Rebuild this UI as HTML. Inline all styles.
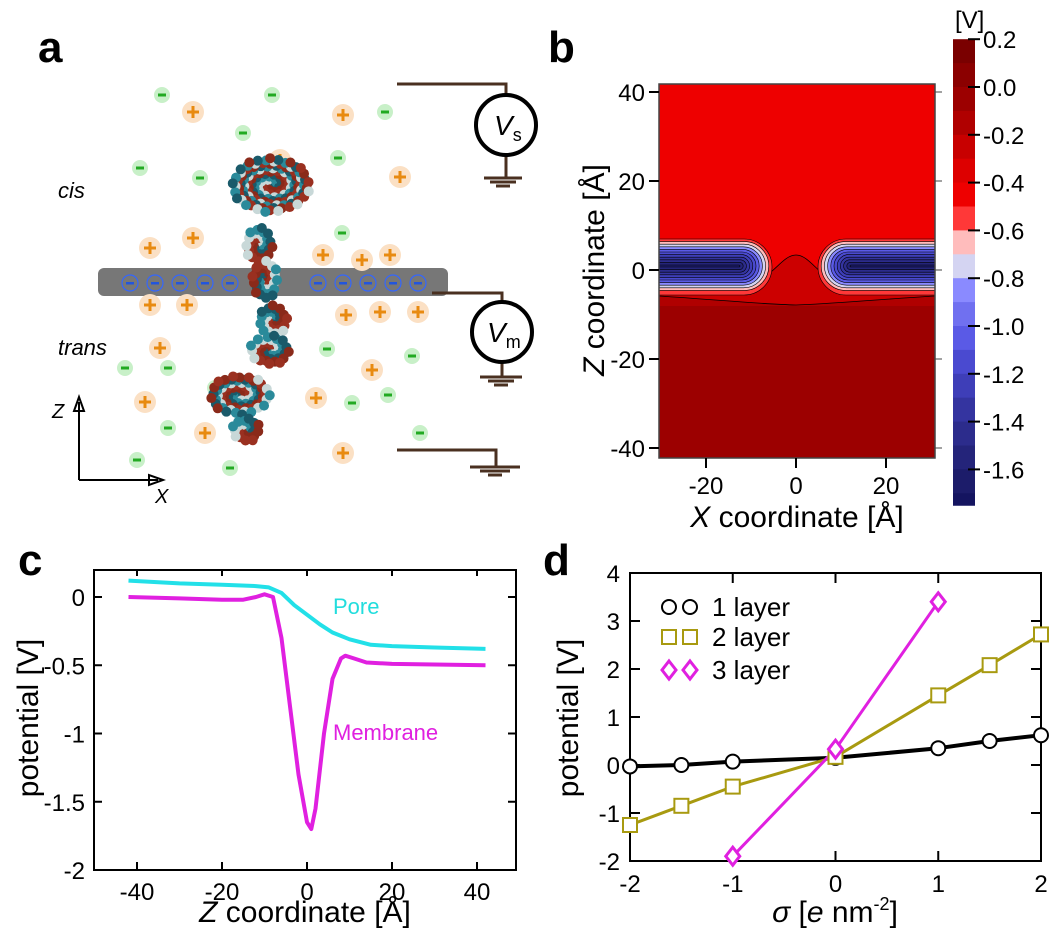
<!DOCTYPE html>
<html><head><meta charset="utf-8"><style>
body{margin:0;background:#fff}
svg{display:block;font-family:"Liberation Sans",sans-serif}
</style></head><body>
<svg id="fig" width="1050" height="940" viewBox="0 0 1050 940">
<defs>
<clipPath id="bclip"><rect x="659" y="84" width="276" height="374"/></clipPath>
<clipPath id="cclip"><rect x="94" y="570" width="422" height="300"/></clipPath>
</defs>
<text x="38" y="62" font-size="44" font-weight="bold">a</text>
<text x="548" y="62" font-size="44" font-weight="bold">b</text>
<text x="18" y="575" font-size="44" font-weight="bold">c</text>
<text x="543" y="575" font-size="44" font-weight="bold">d</text>

<g id="pa">
<rect x="98" y="268" width="350" height="28" rx="6" fill="#777"/>
<g id="ions"></g>
<g id="protein"></g>
<text x="58" y="198" font-size="22" font-style="italic">cis</text>
<text x="58" y="355" font-size="22" font-style="italic">trans</text>
<g stroke="#4a3020" stroke-width="3" fill="none">
<path d="M397 84 H506 V95"/><path d="M506 156 V178 M484 178 H522 M490 182 H516 M496 186 H510"/>
<path d="M432 293 H502 V302"/><path d="M502 363 V377 M480 377 H522 M488 381 H514 M494 385 H508"/>
<path d="M397 450 H496 V467 M470 467 H520 M480 471 H510 M488 475 H502"/>
</g>
<circle cx="506" cy="125" r="30" fill="#fff" stroke="#000" stroke-width="4"/>
<text x="494" y="135" font-size="28" font-style="italic">V<tspan font-size="18" font-style="normal" dy="6">s</tspan></text>
<circle cx="502" cy="332" r="30" fill="#fff" stroke="#000" stroke-width="4"/>
<text x="487" y="342" font-size="28" font-style="italic">V<tspan font-size="18" font-style="normal" dy="6">m</tspan></text>
<g stroke="#000" stroke-width="2" fill="none">
<path d="M79 480 V402 M79 397 l-5 14 h10 z M79 480 H158 M163 480 l-14 -5 v10 z"/>
</g>
<text x="52" y="418" font-size="20" font-style="italic">Z</text>
<text x="155" y="503" font-size="20" font-style="italic">X</text>
</g>

<g id="pb">
<g clip-path="url(#bclip)">
<rect x="659" y="84" width="276" height="374" fill="#ee0000"/>
<rect x="659" y="305" width="276" height="153" fill="#9c0000"/>
<path d="M659 296 C720 300 760 304 796 305 C830 304 870 300 935 296 V306 H659Z" fill="#b00000"/>
<path d="M659 285 H740 C770 285 780 255 796 255 C812 255 822 285 850 285 H935 V296 C870 300 830 304 796 305 C760 304 720 300 659 296Z" fill="#cc0000" stroke="#000" stroke-width="0.8"/>
<g id="blobs"></g>
</g>
<rect x="659" y="84" width="276" height="374" fill="none" stroke="#444" stroke-width="1.5"/>
<g id="bticks"></g>
<text x="0" y="0" font-size="30" transform="translate(604,270) rotate(-90)" text-anchor="middle"><tspan font-style="italic">Z</tspan> coordinate [Å]</text>
<text x="797" y="527" font-size="30" text-anchor="middle"><tspan font-style="italic">X</tspan> coordinate [Å]</text>
<g id="cbar"></g>
<text x="955" y="28" font-size="24">[V]</text>
</g>

<g id="pc">
<rect x="94" y="570" width="422" height="300" fill="none" stroke="#000" stroke-width="2"/>
<g id="cticks"></g>
<g clip-path="url(#cclip)" id="clines"></g>
<text x="333" y="614" font-size="22" fill="#22dddd">Pore</text>
<text x="333" y="740" font-size="22" fill="#e020e0">Membrane</text>
<text font-size="30" transform="translate(38,718) rotate(-90)" text-anchor="middle">potential [V]</text>
<text x="305" y="922" font-size="30" text-anchor="middle"><tspan font-style="italic">Z</tspan> coordinate [Å]</text>
</g>

<g id="pd">
<rect x="630" y="573" width="411" height="288" fill="none" stroke="#000" stroke-width="2"/>
<g id="dticks"></g>
<g id="dlines"></g>
<g id="dlegend"></g>
<text font-size="30" transform="translate(578,718) rotate(-90)" text-anchor="middle">potential [V]</text>
<text x="835" y="922" font-size="30" text-anchor="middle"><tspan font-style="italic">σ</tspan> [<tspan font-style="italic">e</tspan> nm<tspan font-size="18" dy="-12">-2</tspan><tspan dy="12">]</tspan></text>
</g>
</svg>
<script>
const poreZ = [-42,-30,-20,-12,-9,-6,-3,0,3,6,10,15,20,30,42];
const poreV = [0.12,0.1,0.09,0.08,0.07,0.03,-0.06,-0.13,-0.2,-0.26,-0.31,-0.35,-0.36,-0.37,-0.38];
const membZ = [-42,-30,-20,-15,-12,-10,-8,-6,-4,-2,0,1,2,4,6,8,9,11,14,20,42];
const membV = [0,-0.01,-0.02,-0.02,0.0,0.02,0.0,-0.3,-0.8,-1.3,-1.65,-1.7,-1.55,-1.0,-0.6,-0.45,-0.43,-0.45,-0.48,-0.49,-0.5];
const cXTicks = [-40,-20,0,20,40];
const cYTicks = [0,-0.5,-1,-1.5,-2];
const cYLabels = ["0","-0.5","-1","-1.5","-2"];
const sigma1 = [-2,-1.5,-1,0,1,1.5,2];
const layer1 = [-0.03,0.0,0.07,0.15,0.35,0.5,0.62];
const sigma2 = [-2,-1.5,-1,0,1,1.5,2];
const layer2 = [-1.25,-0.85,-0.45,0.17,1.45,2.08,2.72];
const sigma3 = [-1,0,1];
const layer3 = [-1.9,0.33,3.4];
const dXTicks = [-2,-1,0,1,2];
const dYTicks = [-2,-1,0,1,2,3,4];
const cbLevels = [0.2,0.1,0,-0.1,-0.2,-0.3,-0.4,-0.5,-0.6,-0.7,-0.8,-0.9,-1.0,-1.1,-1.2,-1.3,-1.4,-1.5,-1.6,-1.7,-1.75];
const cbColors = ["#7a0000","#8b0000","#9c0000","#b00000","#c80000","#dd0000","#ee0000","#ff3838","#ffbcbc","#d4d4f2","#8a8aff","#7070f0","#5a5ae6","#4a4ad0","#3e3eb8","#3434a0","#2c2c8c","#24247a","#1c1c6a","#141460"];
const cbTicks = [0.2,0,-0.2,-0.4,-0.6,-0.8,-1.0,-1.2,-1.4,-1.6];
const bTicks = [-40,-20,0,20,40];
const bXTicks = [-20,0,20];

const NS="http://www.w3.org/2000/svg";
function mk(tag,attrs,parent){const e=document.createElementNS(NS,tag);for(const k in attrs)e.setAttribute(k,attrs[k]);parent.appendChild(e);return e;}

const minusIons=[[162,95],[272,95],[243,133],[140,168],[200,178],[385,112],[338,158],[342,233],[327,349],[412,356],[125,368],[168,368],[215,388],[352,403],[388,395],[420,433],[137,460],[230,468],[168,428]];
const plusIons=[[193,112],[343,115],[280,160],[400,177],[150,248],[193,238],[323,255],[362,260],[390,255],[150,305],[187,305],[346,315],[380,312],[418,312],[160,348],[372,370],[145,402],[205,433],[316,398],[343,453]];
const ions=document.getElementById('ions');
minusIons.forEach(p=>{const g=mk('g',{},ions);


mk('circle',{cx:p[0],cy:p[1],r:8,fill:'#c8f0c8'},g);mk('rect',{x:p[0]-4,y:p[1]-1.5,width:8,height:3,fill:'#22aa22'},g);});
plusIons.forEach(p=>{const g=mk('g',{},ions);


mk('circle',{cx:p[0],cy:p[1],r:11,fill:'#fbe0c4'},g);mk('path',{d:`M${p[0]-6} ${p[1]}h12M${p[0]} ${p[1]-6}v12`,stroke:'#e88a10','stroke-width':3},g);});
[130,155,180,205,230,318,343,368,393,418].forEach(x=>{const g=mk('g',{},ions);


mk('circle',{cx:x,cy:283,r:8,fill:'none',stroke:'#3366ff','stroke-width':1.2},g);mk('rect',{x:x-4,y:282,width:8,height:2.5,fill:'#2255dd'},g);});
const prot=document.getElementById('protein');
const blobs=[[232,185,78,55],[245,245,28,35],[252,280,26,40],[258,320,30,30],[250,350,40,30],[210,395,60,40],[232,430,28,25]];
const cols=['#2a8a9a','#8a2a1a','#c8d8d8','#1a5a6a','#9a3020'];
let k=0;
blobs.forEach(b=>{const n=Math.round(b[2]*b[3]/28);for(let i=0;i<n;i++){k++;const a=(k*2.399)%6.283,r=Math.sqrt((i+0.5)/n);
mk('circle',{cx:b[0]+b[2]/2+b[2]/2*r*Math.cos(a),cy:b[1]+b[3]/2*r*Math.sin(a),r:5,fill:cols[k%5]},prot);}});

const bl=document.getElementById('blobs');
const layerCols=["#ff3838","#ffbcbc","#d4d4f2","#8a8aff","#5a5ae6","#4a4ad0","#3e3eb8","#3434a0","#2c2c8c","#24247a","#1c1c6a"];
layerCols.forEach((c,i)=>{const d=i*2.6, top=239+d, h=56-2*d-(i==0?0:2), rx=Math.max(h/2,1);
mk('rect',{x:560,y:top,width:212-i*3.2,height:h,rx:rx,fill:c,stroke:'#000','stroke-width':0.6},bl);
mk('rect',{x:818+i*3.2,y:top,width:220,height:h,rx:rx,fill:c,stroke:'#000','stroke-width':0.6},bl);});
const bt=document.getElementById('bticks');
const bY=z=>270-4.45*z, bX=x=>796+4.5*x;
bTicks.forEach(t=>{mk('line',{x1:649,x2:659,y1:bY(t),y2:bY(t),stroke:'#000','stroke-width':2},bt);
mk('line',{x1:935,x2:942,y1:bY(t),y2:bY(t),stroke:'#444','stroke-width':1},bt);
const tx=mk('text',{x:645,y:bY(t)+9,'font-size':24,'text-anchor':'end'},bt);tx.textContent=t;});
bXTicks.forEach(t=>{mk('line',{x1:bX(t),x2:bX(t),y1:458,y2:468,stroke:'#000','stroke-width':2},bt);
const tx=mk('text',{x:bX(t),y:494,'font-size':24,'text-anchor':'middle'},bt);tx.textContent=t;});
const cb=document.getElementById('cbar');
const cbY=v=>87-239*v;
for(let i=0;i<cbColors.length;i++){const r=mk('rect',{x:953,y:cbY(cbLevels[i]),width:22,height:cbY(cbLevels[i+1])-cbY(cbLevels[i])+0.5,fill:cbColors[i]},cb);

}
cbTicks.forEach(t=>{mk('line',{x1:968,x2:980,y1:cbY(t),y2:cbY(t),stroke:'#000','stroke-width':2},cb);
const tx=mk('text',{x:983,y:cbY(t)+9,'font-size':24},cb);tx.textContent=t.toFixed(1);});

const cX=z=>307+4.25*z, cY=v=>597-136.5*v;
const ct=document.getElementById('cticks');
cXTicks.forEach(t=>{mk('line',{x1:cX(t),x2:cX(t),y1:870,y2:862,stroke:'#000','stroke-width':2},ct);
mk('line',{x1:cX(t),x2:cX(t),y1:570,y2:576,stroke:'#000','stroke-width':2},ct);
const tx=mk('text',{x:cX(t),y:900,'font-size':24,'text-anchor':'middle'},ct);tx.textContent=t;});
cYTicks.forEach((t,i)=>{mk('line',{x1:94,x2:102,y1:cY(t),y2:cY(t),stroke:'#000','stroke-width':2},ct);
mk('line',{x1:516,x2:508,y1:cY(t),y2:cY(t),stroke:'#000','stroke-width':2},ct);
const tx=mk('text',{x:85,y:cY(t)+9,'font-size':24,'text-anchor':'end'},ct);tx.textContent=cYLabels[i];});
const cl=document.getElementById('clines');
function line(xs,ys,fx,fy,col,w,par,name){const p=mk('path',{d:xs.map((x,i)=>(i?'L':'M')+fx(x).toFixed(1)+' '+fy(ys[i]).toFixed(1)).join(''),stroke:col,'stroke-width':w,fill:'none','stroke-linejoin':'round'},par);

return p;}
line(poreZ,poreV,cX,cY,'#22e0e8',4,cl,'pore-line');
line(membZ,membV,cX,cY,'#e020e0',4,cl,'membrane-line');

const dX=s=>835.5+102.75*s, dY=v=>765-48*v;
const dt=document.getElementById('dticks');
dXTicks.forEach(t=>{mk('line',{x1:dX(t),x2:dX(t),y1:861,y2:851,stroke:'#000','stroke-width':2},dt);
mk('line',{x1:dX(t),x2:dX(t),y1:573,y2:583,stroke:'#000','stroke-width':2},dt);
const tx=mk('text',{x:dX(t),y:892,'font-size':24,'text-anchor':'middle'},dt);tx.textContent=t;});
dYTicks.forEach(t=>{mk('line',{x1:630,x2:640,y1:dY(t),y2:dY(t),stroke:'#000','stroke-width':2},dt);
mk('line',{x1:1041,x2:1031,y1:dY(t),y2:dY(t),stroke:'#000','stroke-width':2},dt);
const tx=mk('text',{x:620,y:dY(t)+9,'font-size':24,'text-anchor':'end'},dt);tx.textContent=t;});
const dl=document.getElementById('dlines');
function marker(type,x,y,col,par){let e;
if(type==='o')e=mk('circle',{cx:x,cy:y,r:7,fill:'#fff',stroke:col,'stroke-width':2},par);
else if(type==='s')e=mk('rect',{x:x-7,y:y-7,width:14,height:14,fill:'#fff',stroke:col,'stroke-width':2},par);
else e=mk('path',{d:`M${x} ${y-9}L${x+7} ${y}L${x} ${y+9}L${x-7} ${y}Z`,fill:'#fff',stroke:col,'stroke-width':3},par);

}
line(sigma1,layer1,dX,dY,'#000',4,dl,'layer1-line');
line(sigma2,layer2,dX,dY,'#a89a10',3,dl,'layer2-line');
line(sigma3,layer3,dX,dY,'#e020e0',3,dl,'layer3-line');
sigma1.forEach((s,i)=>marker('o',dX(s),dY(layer1[i]),'#000',dl));
sigma2.forEach((s,i)=>marker('s',dX(s),dY(layer2[i]),'#a89a10',dl));
sigma3.forEach((s,i)=>marker('d',dX(s),dY(layer3[i]),'#e020e0',dl));
const lg=document.getElementById('dlegend');
[['o','#000','1 layer',607],['s','#a89a10','2 layer',637],['d','#e020e0','3 layer',670]].forEach(e=>{
marker(e[0],669,e[3],e[1],lg);marker(e[0],690,e[3],e[1],lg);
const tx=mk('text',{x:712,y:e[3]+9,'font-size':26},lg);tx.textContent=e[2];

});
</script>
</body></html>
